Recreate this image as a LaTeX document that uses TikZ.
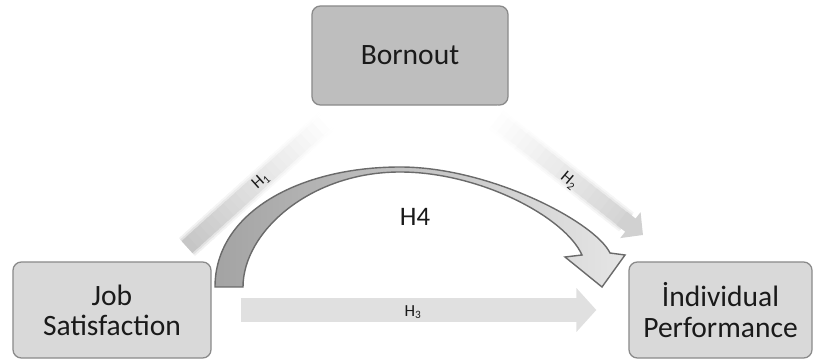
\documentclass[tikz,border=0pt]{standalone}
\usepackage{fontspec}
\setmainfont{Carlito}
\usetikzlibrary{arrows.meta, positioning, calc}
\definecolor{boxdark}{HTML}{BEBEBE}
\definecolor{boxlight}{HTML}{D9D9D9}
\definecolor{edgegray}{HTML}{8A8A8A}
\definecolor{curvedge}{HTML}{6A6A6A}
\definecolor{bandgray}{HTML}{C6C6C6}
\definecolor{inkgray}{HTML}{1A1A1A}

\begin{document}
\begin{tikzpicture}[x=0.025cm, y=0.025cm,
  varbox/.style={draw=edgegray, line width=0.9pt, rounded corners=6pt,
    text=inkgray, font=\fontsize{21}{21.5}\selectfont, align=center, inner sep=0pt},
  hlab/.style={text=inkgray, font=\fontsize{12}{13}\selectfont, inner sep=0.5pt}]

% Canvas (816 x 362 px, 1px = 0.025cm)
\useasboundingbox (0,0) rectangle (816,362);

% Variables
\node[varbox, fill=boxdark, minimum width=4.9cm, minimum height=2.475cm] (burn) at (410,306.5) {Bornout};
\node[varbox, fill=boxlight, minimum width=4.95cm, minimum height=2.4cm] (job) at (112,52) {Job\\Satisfaction};
\node[varbox, fill=boxlight, minimum width=4.575cm, minimum height=2.4cm] (perf) at (720.5,52) {İndividual\\Performance};

% H1: faded band, job satisfaction -> bornout
\coordinate (h1a) at (187,115);
\coordinate (h1b) at (330,244);
\foreach \w/\m in {0.6/25, 0.5/55, 0.4/100} {
  \foreach \i in {0,...,23} {
    \pgfmathtruncatemacro\fv{100-100*\i/23}
    \pgfmathsetmacro\nxt{(\i+1.4)/24}
    \draw[bandgray!\fv!white!\m!white, line width=\w cm] ($(h1a)!\i/24!(h1b)$) -- ($(h1a)!\nxt!(h1b)$);
  }
}
\node[hlab, rotate=42] (h1lab) at (261,181) {H\textsubscript{1}};

% H2: faded band, bornout -> individual performance
\coordinate (h2a) at (490,247);
\coordinate (h2b) at (643,127);
\foreach \w/\m in {0.6/25, 0.5/55, 0.4/100} {
  \foreach \i in {0,...,20} {
    \pgfmathtruncatemacro\fv{85*\i/23}
    \pgfmathsetmacro\nxt{(\i+1.4)/24}
    \draw[bandgray!\fv!white!\m!white, line width=\w cm] ($(h2a)!\i/24!(h2b)$) -- ($(h2a)!\nxt!(h2b)$);
  }
}
\draw[bandgray!80!white, line width=0.42cm, -{Triangle[length=0.4cm, width=0.8cm]}]
  ($(h2a)!0.86!(h2b)$) -- (h2b);
\node[hlab, rotate=-40] (h2lab) at (569,181) {H\textsubscript{2}};

% H3: straight block arrow
\draw[black!12, line width=0.575cm, -{Triangle[length=0.5cm, width=1.075cm]},
  shorten <=0.725cm, shorten >=0.8cm] (job.east) -- (perf.west);
\node[hlab] (h3lab) at (413,50) {H\textsubscript{3}};

% H4: curved block arrow over the top
\draw[left color=black!36, right color=black!10, draw=curvedge, line width=1pt, line join=miter]
  (215,75) .. controls (215,150) and (300,195) .. (400,195)
  .. controls (490,195) and (595,140) .. (610,109)
  -- (625,107) -- (602,75) -- (565,105) -- (582,107)
  .. controls (565,145) and (480,190) .. (400,190)
  .. controls (310,190) and (243,130) .. (243,75) -- cycle;
\node[text=inkgray, font=\fontsize{19}{20}\selectfont] (h4lab) at (415,145) {H4};

\end{tikzpicture}
\end{document}
